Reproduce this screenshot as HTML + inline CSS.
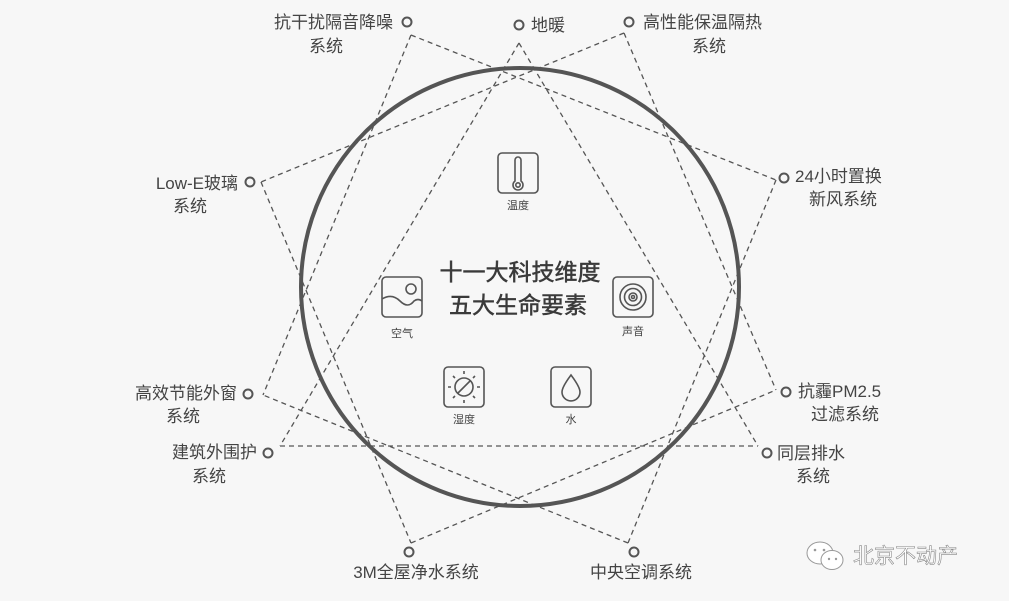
<!DOCTYPE html>
<html><head><meta charset="utf-8">
<style>
html,body{margin:0;padding:0;background:#f7f7f7;}
svg{display:block;}
text{font-family:"Liberation Sans","Noto Sans CJK SC",sans-serif;fill:#444;}
</style></head>
<body>
<svg width="1009" height="601" viewBox="0 0 1009 601" xmlns="http://www.w3.org/2000/svg">
<rect width="1009" height="601" fill="#f7f7f7"/>
<g stroke="#555" stroke-width="1.3" stroke-dasharray="5,4" fill="none">
<line x1="411" y1="35" x2="776" y2="180"/>
<line x1="411" y1="35" x2="263" y2="395"/>
<line x1="519" y1="43" x2="280" y2="446"/>
<line x1="519" y1="43" x2="758" y2="446"/>
<line x1="624" y1="33" x2="261" y2="182"/>
<line x1="624" y1="33" x2="776" y2="390"/>
<line x1="776" y1="180" x2="628" y2="543"/>
<line x1="261" y1="182" x2="411" y2="543"/>
<line x1="411" y1="543" x2="776" y2="390"/>
<line x1="628" y1="543" x2="263" y2="395"/>
<line x1="280" y1="446" x2="758" y2="446"/>
</g>
<circle cx="520" cy="287" r="219" fill="none" stroke="#555" stroke-width="4"/>
<g fill="#f7f7f7" stroke="#555" stroke-width="2">
<circle cx="407" cy="22" r="4.5"/>
<circle cx="519" cy="25" r="4.5"/>
<circle cx="629" cy="22" r="4.5"/>
<circle cx="784" cy="178" r="4.5"/>
<circle cx="786" cy="392" r="4.5"/>
<circle cx="767" cy="453" r="4.5"/>
<circle cx="634" cy="552" r="4.5"/>
<circle cx="409" cy="552" r="4.5"/>
<circle cx="268" cy="453" r="4.5"/>
<circle cx="248" cy="394" r="4.5"/>
<circle cx="250" cy="182" r="4.5"/>
</g>
<g font-size="17">
<text x="393" y="28" text-anchor="end">抗干扰隔音降噪</text>
<text x="326" y="52" text-anchor="middle">系统</text>
<text x="531" y="31">地暖</text>
<text x="643" y="28">高性能保温隔热</text>
<text x="709" y="52" text-anchor="middle">系统</text>
<text x="795" y="182">24小时置换</text>
<text x="843" y="205" text-anchor="middle">新风系统</text>
<text x="798" y="397">抗霾PM2.5</text>
<text x="845" y="420" text-anchor="middle">过滤系统</text>
<text x="777" y="459">同层排水</text>
<text x="813" y="482" text-anchor="middle">系统</text>
<text x="641" y="578" text-anchor="middle">中央空调系统</text>
<text x="416" y="578" text-anchor="middle">3M全屋净水系统</text>
<text x="257" y="458" text-anchor="end">建筑外围护</text>
<text x="209" y="482" text-anchor="middle">系统</text>
<text x="237" y="399" text-anchor="end">高效节能外窗</text>
<text x="183" y="422" text-anchor="middle">系统</text>
<text x="238" y="189" text-anchor="end">Low-E玻璃</text>
<text x="190" y="212" text-anchor="middle">系统</text>
</g>
<text x="520" y="280" text-anchor="middle" font-size="23" style="fill:#3a3a3a;stroke:#3a3a3a;stroke-width:0.5">十一大科技维度</text>
<text x="518" y="313" text-anchor="middle" font-size="23" style="fill:#3a3a3a;stroke:#3a3a3a;stroke-width:0.5">五大生命要素</text>
<g fill="none" stroke="#555" stroke-width="1.6">
<rect x="498" y="153" width="40" height="40" rx="4"/>
<path d="M515 160 v21 a5 5 0 1 0 6 0 v-21 a3 3 0 0 0 -6 0z"/>
<circle cx="518" cy="185" r="2.2"/>
<rect x="382" y="277" width="40" height="40" rx="4"/>
<circle cx="411" cy="289" r="5"/>
<path d="M382 299 q10 -6 18 2 q8 8 14 0 q4 -3 8 0"/>
<rect x="613" y="277" width="40" height="40" rx="4"/>
<circle cx="633" cy="297" r="13"/>
<circle cx="633" cy="297" r="8.5"/>
<circle cx="633" cy="297" r="4"/>
<circle cx="633" cy="297" r="1.5"/>
<rect x="444" y="367" width="40" height="40" rx="4"/>
<circle cx="464" cy="387" r="9"/>
<path d="M458 393 L470 381 M464 374 v-3 M464 400 v3 M451 387 h-3 M477 387 h3 M455 378 l-2 -2 M473 396 l2 2 M473 378 l2 -2 M455 396 l-2 2"/>
<rect x="551" y="367" width="40" height="40" rx="4"/>
<path d="M571 375 q-9 12 -9 17 a9 9 0 0 0 18 0 q0 -5 -9 -17z"/>
</g>
<g font-size="11" text-anchor="middle">
<text x="518" y="209">温度</text>
<text x="402" y="337">空气</text>
<text x="633" y="335">声音</text>
<text x="464" y="423">湿度</text>
<text x="571" y="423">水</text>
</g>
<g fill="#fff" stroke="#999" stroke-width="1">
<ellipse cx="820" cy="553" rx="13" ry="11"/>
<ellipse cx="832" cy="560" rx="11" ry="9.5"/>
</g>
<g fill="#999"><circle cx="815" cy="550" r="1.3"/><circle cx="824" cy="550" r="1.3"/><circle cx="829" cy="559" r="1.2"/><circle cx="836" cy="559" r="1.2"/></g>
<text x="853" y="563" font-size="21" style="fill:#fff;stroke:#888;stroke-width:0.6">北京不动产</text>
</svg>
</body></html>
